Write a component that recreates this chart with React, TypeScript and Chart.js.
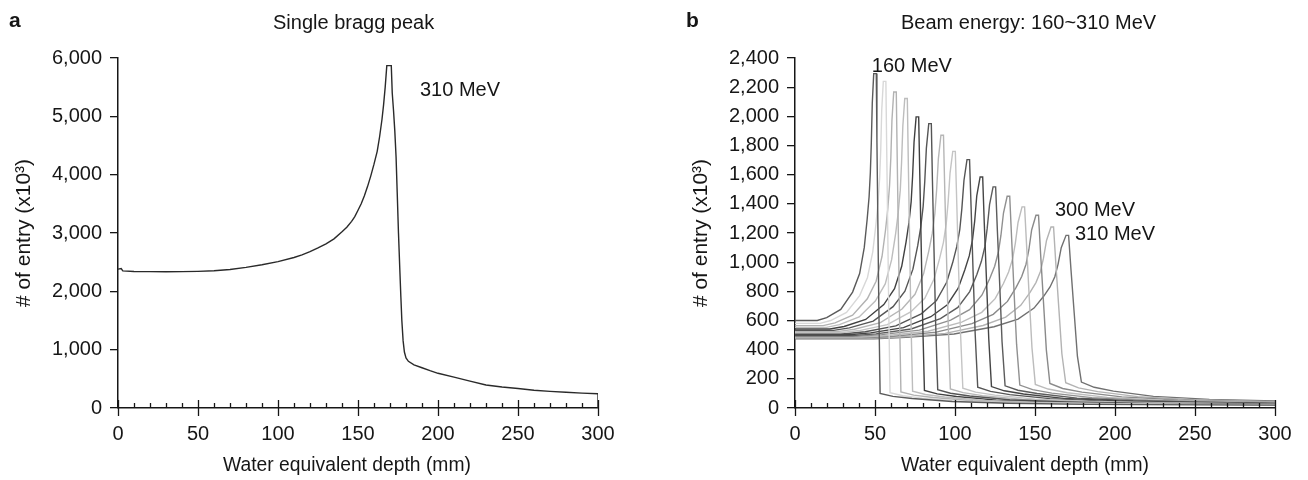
import React, { useEffect, useRef } from 'react';
import { Chart, registerables } from 'chart.js';

Chart.register(...registerables);

const FONT = "'Liberation Sans', Arial, Helvetica, sans-serif";

// ---------- Panel a : single Bragg peak (310 MeV) ----------
const singleDepth = [0, 2, 3, 10, 20, 30, 40, 50, 60, 70, 80, 90, 100, 110, 115, 120, 125, 130, 135, 140, 143, 146, 148, 150, 152, 154, 156, 158, 160, 162, 163.5, 165, 166, 167, 168, 170.8, 171.4, 172.2, 173, 173.8, 174.5, 175.3, 176.1, 176.8, 177.4, 178.2, 179, 180, 181.5, 185, 190, 195, 200, 210, 220, 230, 240, 250, 260, 270, 280, 290, 300, 300];
const singleEntry = [2380, 2390, 2350, 2340, 2338, 2336, 2338, 2342, 2352, 2375, 2410, 2455, 2510, 2580, 2625, 2680, 2745, 2815, 2900, 3020, 3100, 3200, 3280, 3390, 3500, 3640, 3800, 3980, 4180, 4400, 4650, 4950, 5200, 5500, 5870, 5870, 5400, 5100, 4750, 4300, 3700, 3000, 2400, 1900, 1500, 1150, 960, 860, 800, 740, 690, 640, 595, 530, 460, 395, 360, 335, 305, 285, 270, 255, 243, 0];
const singleLabels = [{ x: 188.75, y: 5446, text: '310 MeV' }];
const singleYTicks = { min: 0, max: 6000, step: 1000 };

// ---------- Panel b : beam energies 160~310 MeV ----------
const energies = [160, 170, 180, 190, 200, 210, 220, 230, 240, 250, 260, 270, 280, 290, 300, 310];
const curve160 = [[0,600],[13.9,600],[19.8,620],[28.6,676],[36.0,795],[40.4,922],[43.3,1101],[45.1,1294],[46.3,1447],[47.1,1616],[47.7,1819],[48.3,2090],[49.2,2293],[50.8,2293],[51.2,1834],[51.8,1261],[52.4,688],[53.2,100],[61.2,80],[73.2,65],[98.2,45],[133.2,33],[183.2,25],[300,20]];
const curve170 = [[0,580],[15.7,580],[22.3,600],[32.2,655],[40.4,771],[45.3,895],[48.6,1071],[50.6,1261],[51.9,1410],[52.9,1576],[53.6,1775],[54.2,2041],[55.2,2240],[56.8,2240],[57.3,1792],[57.95,1232],[58.6,672],[59.4,105],[67.4,84],[79.4,68],[104.4,47],[139.4,35],[189.4,26],[300,21]];
const curve180 = [[0,565],[17.6,565],[25.0,584],[36.0,637],[45.2,749],[50.7,869],[54.4,1039],[56.6,1222],[58.0,1366],[59.1,1526],[59.9,1718],[60.6,1975],[61.7,2167],[63.3,2167],[63.85,1734],[64.6,1192],[65.3,650],[66.2,110],[74.2,88],[86.2,72],[111.2,50],[146.2,36],[196.2,28],[300,22]];
const curve190 = [[0,553],[19.7,553],[27.8,572],[40.1,624],[50.2,733],[56.4,851],[60.4,1017],[62.9,1196],[64.5,1338],[65.8,1494],[66.6,1683],[67.4,1934],[68.6,2122],[70.2,2122],[70.8,1698],[71.6,1167],[72.4,637],[73.5,116],[81.5,93],[93.5,75],[118.5,52],[153.5,38],[203.5,29],[300,23]];
const curve200 = [[0,542],[21.8,542],[30.7,559],[44.2,607],[55.5,709],[62.2,818],[66.7,972],[69.4,1138],[71.2,1269],[72.6,1414],[73.5,1589],[74.4,1822],[75.7,1996],[77.3,1996],[78.0,1597],[78.9,1098],[79.8,599],[80.9,121],[88.9,97],[100.9,79],[125.9,54],[160.9,40],[210.9,30],[300,24]];
const curve210 = [[0,532],[24.1,532],[34.0,549],[48.9,596],[61.3,695],[68.7,801],[73.7,952],[76.7,1113],[78.6,1241],[80.1,1383],[81.1,1553],[82.1,1780],[83.6,1950],[85.2,1950],[85.9,1560],[86.9,1073],[87.9,585],[89.2,126],[97.2,101],[109.2,82],[134.2,57],[169.2,42],[219.2,32],[300,25]];
const curve220 = [[0,524],[26.3,524],[37.1,540],[53.4,585],[66.9,679],[75.0,780],[80.4,922],[83.6,1076],[85.8,1197],[87.4,1332],[88.5,1493],[89.6,1708],[91.2,1870],[92.8,1870],[93.6,1496],[94.7,1029],[95.8,561],[97.1,131],[105.1,105],[117.1,85],[142.1,59],[177.1,43],[227.1,33],[300,27]];
const curve230 = [[0,516],[28.5,516],[40.2,531],[57.7,572],[72.3,659],[81.1,752],[86.9,884],[90.4,1026],[92.8,1138],[94.5,1262],[95.7,1412],[96.9,1611],[98.6,1760],[100.2,1760],[101.1,1408],[102.2,968],[103.4,528],[104.9,136],[112.9,109],[124.9,88],[149.9,61],[184.9,45],[234.9,34],[300,28]];
const curve240 = [[0,509],[31.1,509],[43.9,523],[63.0,563],[78.9,646],[88.4,736],[94.8,862],[98.6,999],[101.1,1106],[103.0,1225],[104.3,1369],[105.6,1560],[107.5,1703],[109.1,1703],[110.1,1362],[111.3,937],[112.6,511],[114.2,142],[122.2,114],[134.2,92],[159.2,64],[194.2,47],[244.2,36],[300,29]];
const curve250 = [[0,502],[33.6,502],[47.2,515],[67.8,551],[84.9,626],[95.2,708],[102.0,822],[106.1,946],[108.9,1043],[110.9,1151],[112.3,1281],[113.6,1454],[115.7,1584],[117.3,1584],[118.3,1267],[119.7,871],[121.1,475],[122.8,147],[130.8,118],[142.8,96],[167.8,66],[202.8,49],[252.8,37],[300,30]];
const curve260 = [[0,496],[35.9,496],[50.6,508],[72.6,542],[90.9,613],[101.8,690],[109.2,798],[113.6,914],[116.5,1006],[118.7,1108],[120.1,1230],[121.6,1394],[123.8,1516],[125.4,1516],[126.5,1213],[128.0,834],[129.4,455],[131.3,152],[139.3,122],[151.3,99],[176.3,68],[211.3,50],[261.3,38],[300,32]];
const curve270 = [[0,491],[38.5,491],[54.2,503],[77.7,534],[97.3,602],[109.1,674],[116.9,775],[121.6,885],[124.8,972],[127.1,1068],[128.7,1183],[130.3,1337],[132.6,1452],[134.2,1452],[135.4,1162],[136.9,799],[138.5,436],[140.5,157],[148.5,126],[160.5,102],[185.5,71],[220.5,52],[270.5,39],[300,35]];
const curve280 = [[0,486],[41.3,486],[58.1,497],[83.2,526],[104.2,589],[116.7,656],[125.1,750],[130.2,852],[133.5,933],[136.0,1022],[137.7,1129],[139.4,1272],[141.9,1379],[143.5,1379],[144.8,1103],[146.4,758],[148.1,414],[150.2,162],[158.2,130],[170.2,105],[195.2,73],[230.2,53],[280.2,41],[300,38]];
const curve290 = [[0,482],[43.9,482],[61.6,492],[88.3,520],[110.6,579],[123.9,642],[132.8,731],[138.1,826],[141.7,902],[144.4,986],[146.2,1087],[147.9,1221],[150.6,1322],[152.2,1322],[153.5,1058],[155.3,727],[157.1,397],[159.3,168],[167.3,134],[179.3,109],[204.3,76],[239.3,55],[289.3,42],[300,40]];
const curve300 = [[0,478],[46.6,478],[65.5,487],[93.9,512],[117.5,566],[131.7,623],[141.1,704],[146.8,791],[150.6,860],[153.4,936],[155.3,1027],[157.2,1149],[160.0,1241],[161.6,1241],[163.0,993],[164.9,683],[166.8,372],[169.2,173],[177.2,138],[189.2,112],[214.2,78],[249.2,57],[300,44]];
const curve310 = [[0,475],[49.4,475],[69.4,484],[99.4,507],[124.4,557],[139.4,610],[149.4,685],[155.4,766],[159.4,830],[162.4,900],[164.4,985],[166.4,1099],[169.4,1184],[171.0,1184],[172.5,947],[174.5,651],[176.5,355],[179.0,178],[187,142],[199,116],[224,80],[259,59],[300,48]];
const energyCurves = [curve160, curve170, curve180, curve190, curve200, curve210, curve220, curve230, curve240, curve250, curve260, curve270, curve280, curve290, curve300, curve310];
const curveColors = ['#5a5a5a', '#d8d8d8', '#b2b2b2', '#bdbdbd', '#404040', '#555555', '#b6b6b6', '#c4c4c4', '#555555', '#454545', '#5c5c5c', '#909090', '#bcbcbc', '#8a8a8a', '#b3b3b3', '#707070'];
const energyLabels = [
  { x: 48, y: 2343, text: '160 MeV' },
  { x: 162.5, y: 1352, text: '300 MeV' },
  { x: 175, y: 1191, text: '310 MeV' },
];
const energyYTicks = { min: 0, max: 2400, step: 200 };

const xTicks = { min: 0, max: 300, step: 50, minor: 10 };
const xTitle = 'Water equivalent depth (mm)';
const yTitle = '# of entry (x10³)';

const INK = '#161616';

const xTickPlugin = {
  id: 'xTickMarks',
  afterDraw(chart: any) {
    const xs = chart.scales.x;
    const y0 = chart.chartArea.bottom;
    const ctx = chart.ctx;
    ctx.save();
    ctx.strokeStyle = INK;
    ctx.lineWidth = 1.3;
    for (let v = xTicks.min; v <= xTicks.max; v += xTicks.minor) {
      const px = Math.round(xs.getPixelForValue(v)) + 0.5;
      ctx.beginPath();
      if (v % xTicks.step === 0) {
        ctx.moveTo(px, y0 - 8);
        ctx.lineTo(px, y0 + 8);
      } else {
        ctx.moveTo(px, y0 - 5);
        ctx.lineTo(px, y0);
      }
      ctx.stroke();
    }
    ctx.restore();
  },
};

const makeLabelPlugin = (labels: { x: number; y: number; text: string }[]) => ({
  id: 'peakLabels',
  afterDraw(chart: any) {
    const ctx = chart.ctx;
    ctx.save();
    ctx.fillStyle = INK;
    ctx.font = `20px ${FONT}`;
    ctx.textAlign = 'left';
    ctx.textBaseline = 'middle';
    labels.forEach((l) => {
      ctx.fillText(l.text, chart.scales.x.getPixelForValue(l.x), chart.scales.y.getPixelForValue(l.y));
    });
    ctx.restore();
  },
});

function buildOptions(yCfg: { min: number; max: number; step: number }, rightPad: number) {
  return {
    animation: false,
    responsive: false,
    maintainAspectRatio: false,
    layout: { padding: { top: 58, right: rightPad, left: 0, bottom: 0 } },
    plugins: { legend: { display: false }, tooltip: { enabled: false } },
    elements: { point: { radius: 0 }, line: { tension: 0 } },
    scales: {
      x: {
        type: 'linear',
        min: xTicks.min,
        max: xTicks.max,
        ticks: { stepSize: xTicks.step, font: { family: FONT, size: 20 }, color: INK, padding: 14, maxRotation: 0 },
        grid: { display: false, drawTicks: false, tickLength: 0 },
        border: { display: true, color: INK, width: 1.5 },
        title: { display: false },
        afterFit: (s: any) => { s.height = 72; },
      },
      y: {
        type: 'linear',
        min: yCfg.min,
        max: yCfg.max,
        ticks: {
          stepSize: yCfg.step,
          font: { family: FONT, size: 20 },
          color: INK,
          padding: 8,
          callback: (v: any) => Number(v).toLocaleString('en-US'),
        },
        grid: { display: true, drawOnChartArea: false, drawTicks: true, tickLength: 8, color: INK, lineWidth: 1.3 },
        border: { display: true, color: INK, width: 1.5 },
        title: { display: true, text: yTitle, font: { family: FONT, size: 21 }, color: INK, padding: { top: 12, bottom: 0 } },
        afterFit: (s: any) => { s.width = 118; },
      },
    },
  };
}

function PanelA() {
  const ref = useRef<HTMLCanvasElement | null>(null);
  useEffect(() => {
    if (!ref.current) return;
    const chart = new Chart(ref.current, {
      type: 'line',
      data: {
        datasets: [
          {
            label: '310 MeV',
            data: singleDepth.map((x, i) => ({ x, y: singleEntry[i] })),
            borderColor: '#2a2a2a',
            borderWidth: 1.4,
            pointRadius: 0,
            fill: false,
          },
        ],
      },
      options: buildOptions(singleYTicks, 79) as any,
      plugins: [xTickPlugin, makeLabelPlugin(singleLabels)],
    });
    return () => chart.destroy();
  }, []);
  return <canvas ref={ref} width={677} height={480} style={{ position: 'absolute', left: 0, top: 0, display: 'block' }} />;
}

function PanelB() {
  const ref = useRef<HTMLCanvasElement | null>(null);
  useEffect(() => {
    if (!ref.current) return;
    const chart = new Chart(ref.current, {
      type: 'line',
      data: {
        datasets: energyCurves.map((c, i) => ({
          label: `${energies[i]} MeV`,
          data: c.map((p) => ({ x: p[0], y: p[1] })),
          borderColor: curveColors[i],
          borderWidth: 1.4,
          pointRadius: 0,
          fill: false,
        })),
      },
      options: buildOptions(energyYTicks, 33) as any,
      plugins: [xTickPlugin, makeLabelPlugin(energyLabels)],
    });
    return () => chart.destroy();
  }, []);
  return <canvas ref={ref} width={631} height={480} style={{ position: 'absolute', left: 677, top: 0, display: 'block' }} />;
}

const textBase: React.CSSProperties = {
  position: 'absolute',
  fontFamily: FONT,
  color: INK,
  lineHeight: 1,
  whiteSpace: 'nowrap',
};

export default function App() {
  return (
    <div style={{ position: 'absolute', left: 0, top: 0, width: 1308, height: 480, background: '#fff', overflow: 'hidden' }}>
      <PanelA />
      <PanelB />
      <div style={{ ...textBase, left: 9, top: 9, fontSize: 21, fontWeight: 'bold' }}>a</div>
      <div style={{ ...textBase, left: 273, top: 12, fontSize: 20 }}>Single bragg peak</div>
      <div style={{ ...textBase, left: 686, top: 9, fontSize: 21, fontWeight: 'bold' }}>b</div>
      <div style={{ ...textBase, left: 901, top: 12, fontSize: 20 }}>Beam energy: 160~310 MeV</div>
      <div style={{ ...textBase, left: 223, top: 455, fontSize: 19.3 }}>{xTitle}</div>
      <div style={{ ...textBase, left: 901, top: 455, fontSize: 19.3 }}>{xTitle}</div>
    </div>
  );
}
